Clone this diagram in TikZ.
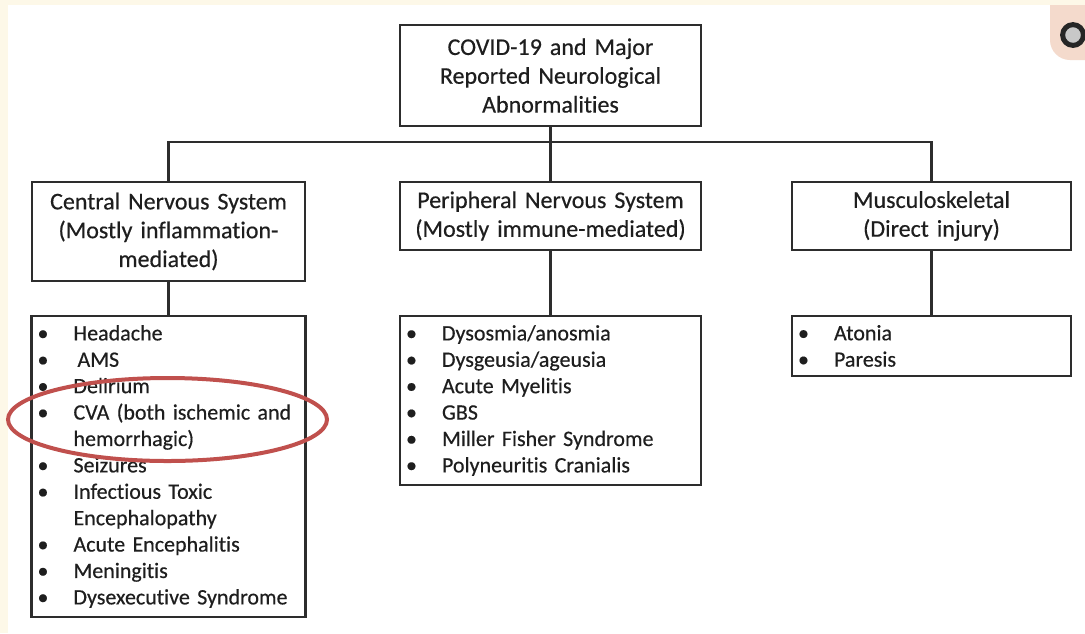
\documentclass[tikz,border=0pt]{standalone}
\usepackage{fontspec}
\setmainfont{Carlito}[Ligatures=NoCommon, FakeBold=0.4]
\usepackage{tikz}
\usetikzlibrary{positioning,calc}
\definecolor{cnLine}{RGB}{45,45,45}
\definecolor{cnText}{RGB}{30,30,30}
\definecolor{cnRed}{RGB}{192,80,77}
\definecolor{cnCream}{RGB}{253,248,232}
\definecolor{cnPeach}{RGB}{244,218,204}
\definecolor{cnRingFill}{RGB}{200,200,200}
\newcommand{\itm}[1]{\makebox[18pt][l]{\textbullet}#1}
\newcommand{\cont}[1]{\hspace*{18pt}#1}
\tikzset{
  headbox/.style={draw=cnLine, line width=1.1pt, text=cnText, align=center,
    inner sep=2pt, font=\fontsize{12}{14.4}\selectfont},
  listbox/.style={draw=cnLine, line width=1.1pt, text=cnText, align=left,
    anchor=north, inner xsep=3pt, inner ysep=4.5pt, font=\fontsize{11}{13.2}\selectfont},
  link/.style={draw=cnLine, line width=1.1pt}
}

\begin{document}
\begin{tikzpicture}[x=0.5pt, y=-0.5pt]
  % page and corner marks
  \useasboundingbox (0,0) rectangle (1085,633);
  \fill[white] (0,0) rectangle (1085,633);
  \fill[cnPeach, rounded corners=10pt] (1050,-20) -- (1050,60) -- (1110,60) -- (1110,-20) -- cycle;
  \fill[cnCream] (0,0) rectangle (1085,5);
  \fill[cnCream] (0,0) rectangle (8,633);
  \draw[black!85, line width=2.5pt, fill=cnRingFill] (1073,35) circle [radius=5.2pt];

  % title
  \node[headbox, text width=146.5pt, minimum height=50.5pt] (top) at (550.5,75.5)
    {COVID-19 and Major\\Reported Neurological\\Abnormalities};

  % the three groups
  \node[headbox, text width=132.5pt, minimum height=49.5pt] (cns) at (168.5,231.5)
    {Central Nervous System\\(Mostly inflammation-\\mediated)};
  \node[headbox, text width=146.5pt, minimum height=34pt] (pns) at (550.5,216)
    {Peripheral Nervous System\\(Mostly immune-mediated)};
  \node[headbox, text width=135.5pt, minimum height=34pt] (msk) at (931.5,216)
    {Musculoskeletal\\(Direct injury)};

  % lists
  \node[listbox, text width=131pt] (cnslist) at (168.5,315)
    {\itm{Headache}\\
     \itm{\hspace{2pt}AMS}\\
     \itm{Delirium}\\
     \itm{CVA (both ischemic and}\\
     \cont{hemorrhagic)}\\
     \itm{Seizures}\\
     \itm{Infectious Toxic}\\
     \cont{Encephalopathy}\\
     \itm{Acute Encephalitis}\\
     \itm{Meningitis}\\
     \itm{Dysexecutive Syndrome}};
  \node[listbox, text width=144.5pt] (pnslist) at (550.5,315)
    {\itm{Dysosmia/anosmia}\\
     \itm{Dysgeusia/ageusia}\\
     \itm{Acute Myelitis}\\
     \itm{GBS}\\
     \itm{Miller Fisher Syndrome}\\
     \itm{Polyneuritis Cranialis}};
  \node[listbox, text width=133.5pt] (msklist) at (931.5,315)
    {\itm{Atonia}\\
     \itm{Paresis}};

  % connectors
  \coordinate (bus) at (550.5,142);
  \draw[link] (top.south) -- (pns.north);
  \draw[link] (cns.north) |- (bus) -| (msk.north);
  \draw[link] (cns.south) -- (cnslist.north);
  \draw[link] (pns.south) -- (pnslist.north);
  \draw[link] (msk.south) -- (msklist.north);

  % highlight
  \draw[cnRed, line width=2pt] (167.5,419.5) ellipse [x radius=79.75pt, y radius=20.75pt];
\end{tikzpicture}
\end{document}
